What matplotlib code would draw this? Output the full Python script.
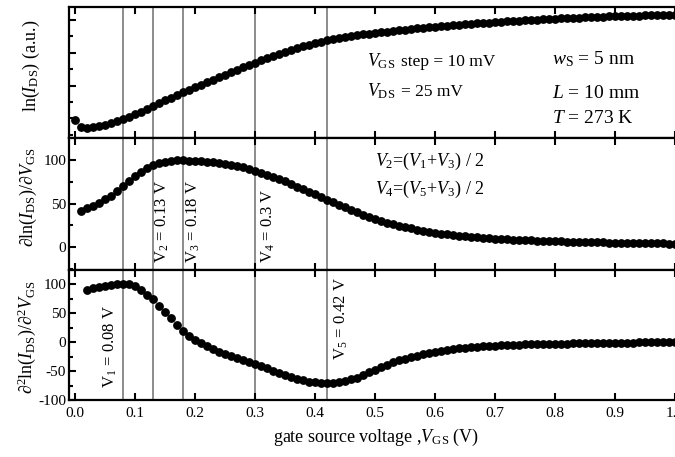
import numpy as np
import matplotlib
matplotlib.use("Agg")
import matplotlib.pyplot as plt
from matplotlib.ticker import MultipleLocator, NullFormatter

plt.rcParams['font.family'] = ['Liberation Serif', 'DejaVu Serif']
plt.rcParams['mathtext.fontset'] = 'custom'
plt.rcParams['mathtext.rm'] = 'Liberation Serif'
plt.rcParams['mathtext.it'] = 'Liberation Serif:italic'
plt.rcParams['mathtext.bf'] = 'Liberation Serif:bold'
plt.rcParams['axes.unicode_minus'] = False

# gate voltage sweep, 10 mV step
vgs = np.round(np.arange(101) * 0.01, 2)

# ln(I_DS), arbitrary units, from 0.00 V to 1.00 V
ln_ids = [
    -0.05, -0.26, -0.28, -0.26, -0.23, -0.19, -0.15, -0.09, -0.03, 0.04,
    0.12, 0.20, 0.29, 0.39, 0.47, 0.55, 0.63, 0.71, 0.79, 0.87,
    0.95, 1.03, 1.10, 1.18, 1.26, 1.33, 1.41, 1.48, 1.56, 1.63,
    1.70, 1.77, 1.84, 1.90, 1.97, 2.03, 2.09, 2.14, 2.20, 2.25,
    2.30, 2.34, 2.38, 2.42, 2.45, 2.48, 2.51, 2.54, 2.57, 2.59,
    2.61, 2.63, 2.65, 2.67, 2.69, 2.71, 2.73, 2.75, 2.77, 2.79,
    2.80, 2.82, 2.83, 2.85, 2.86, 2.87, 2.89, 2.90, 2.91, 2.92,
    2.94, 2.95, 2.96, 2.97, 2.98, 2.99, 3.00, 3.01, 3.02, 3.03,
    3.04, 3.05, 3.06, 3.07, 3.07, 3.08, 3.09, 3.10, 3.10, 3.11,
    3.12, 3.12, 3.13, 3.14, 3.14, 3.15, 3.15, 3.16, 3.16, 3.17,
    3.17,
]

# first derivative, from 0.01 V
d1_ids = [
    42, 44.5, 47.5, 51, 55, 59, 64.5, 70, 75.5, 81,
    86, 90.5, 94, 96.5, 98, 99, 99.5, 99.5, 99.2, 98.8,
    98.2, 97.6, 97, 96.2, 95.3, 94.3, 93, 91.5, 89.5, 87.5,
    85.3, 83, 80.5, 78, 75.3, 72.5, 69.5, 66.5, 63.5, 60.5,
    57.5, 54.5, 51.5, 48.5, 45.5, 42.5, 39.8, 37.2, 34.8, 32.5,
    30.3, 28.3, 26.5, 24.8, 23.2, 21.7, 20.3, 19.0, 17.8, 16.7,
    15.7, 14.8, 14.0, 13.2, 12.5, 11.9, 11.3, 10.8, 10.3, 9.9,
    9.5, 9.1, 8.8, 8.5, 8.2, 7.9, 7.6, 7.3, 7.1, 6.9,
    6.7, 6.5, 6.3, 6.1, 5.9, 5.8, 5.6, 5.5, 5.3, 5.2,
    5.1, 5.0, 4.9, 4.8, 4.7, 4.6, 4.5, 4.4, 4.3, 4.2,
]

# second derivative, from 0.02 V
d2_ids = [
    90, 93.5, 96, 98, 99.5, 100.5, 101, 100, 96.5,
    90, 82.5, 74, 63, 52, 42, 30, 20, 11, 4,
    -2, -7, -12, -16.5, -20.5, -24, -27, -30, -33.5, -37,
    -41, -45, -49, -53, -57, -60.5, -63.5, -66, -68, -69.5,
    -70.5, -71, -70.5, -69, -67, -64.5, -61.5, -57, -52, -47.5,
    -43, -39, -35, -31.5, -28.5, -25.5, -23, -20.5, -18.5, -16.5,
    -14.8, -13.2, -11.8, -10.5, -9.4, -8.5, -7.7, -7, -6.3, -5.7,
    -5.2, -4.8, -4.4, -4.1, -3.8, -3.6, -3.4, -3.2, -3.0, -2.8,
    -2.6, -2.4, -2.2, -2.0, -1.8, -1.6, -1.4, -1.3, -1.1, -1.0,
    -0.8, -0.7, -0.5, -0.4, -0.2, -0.1, 0.1, 0.2, 0.3, 0.4,
]

# characteristic voltages V1..V5
v_marks = [0.08, 0.13, 0.18, 0.30, 0.42]

W, H = 675, 457


def fx(px):
    return px / W


def fy(py):
    return 1 - py / H


fig = plt.figure(figsize=(W / 100, H / 100), dpi=100)


def panel(top, bottom):
    ax = fig.add_axes([fx(69), fy(bottom), 612 / W, (bottom - top) / H])
    ax.set_xlim(-0.0092, 1.0098)
    for s in ax.spines.values():
        s.set_linewidth(1.6)
    ax.tick_params(which='both', direction='in', top=True, right=False,
                   width=1.5, labelsize=11, pad=2)
    ax.tick_params(which='major', length=5)
    ax.tick_params(which='minor', length=3)
    ax.tick_params(axis='x', pad=5)
    ax.xaxis.set_major_locator(MultipleLocator(0.1))
    for v in v_marks:
        ax.axvline(v, color='#8c8c8c', lw=1.4, zorder=1)
    return ax


ax1 = panel(7, 138)
ax2 = panel(138, 270)
ax3 = panel(270, 400)

dot = dict(ls='none', marker='o', ms=5.3, color='black', zorder=3)
ax1.plot(vgs, ln_ids, **dot)
ax2.plot(vgs[1:], d1_ids, **dot)
ax3.plot(vgs[2:], d2_ids, **dot)

ax1.set_ylim(-0.6, 3.4)
ax1.yaxis.set_major_locator(MultipleLocator(1))
ax1.yaxis.set_minor_locator(MultipleLocator(0.5))
ax1.yaxis.set_major_formatter(NullFormatter())
ax1.xaxis.set_major_formatter(NullFormatter())

ax2.set_ylim(-26, 125)
ax2.yaxis.set_major_locator(MultipleLocator(50))
ax2.yaxis.set_minor_locator(MultipleLocator(25))
ax2.xaxis.set_major_formatter(NullFormatter())

ax3.set_ylim(-100, 125)
ax3.yaxis.set_major_locator(MultipleLocator(50))
ax3.yaxis.set_minor_locator(MultipleLocator(25))
ax3.xaxis.set_major_formatter(lambda v, p: f"{v:.1f}")

# axis titles
fig.text(fx(31), fy(66), r'ln($I_{\rm DS}$) (a.u.)', rotation=90,
         ha='center', va='center', fontsize=13)
fig.text(fx(28), fy(197), r'$\partial{\rm ln}(I_{\rm DS})/\partial V_{\rm GS}$',
         rotation=90, ha='center', va='center', fontsize=13)
fig.text(fx(27), fy(337),
         r'$\partial^2{\rm ln}(I_{\rm DS})/\partial^2 V_{\rm GS}$',
         rotation=90, ha='center', va='center', fontsize=13)
fig.text(fx(376), fy(437), r'gate source voltage ,$V_{\rm GS}$ (V)',
         ha='center', va='center', fontsize=13)

# measurement conditions
fig.text(fx(367), fy(66), r'$V_{\rm GS}$', fontsize=13, va='baseline')
fig.text(fx(401), fy(66), 'step = 10 mV', fontsize=12.5, va='baseline')
fig.text(fx(367), fy(96), r'$V_{\rm DS}$', fontsize=13, va='baseline')
fig.text(fx(401), fy(96), '= 25 mV', fontsize=12.5, va='baseline')
fig.text(fx(552), fy(64), r'$w_{\rm S}$ = 5 nm', fontsize=14, va='baseline')
fig.text(fx(552), fy(98), r'$L$ = 10 mm', fontsize=14, va='baseline')
fig.text(fx(552), fy(123), r'$T$ = 273 K', fontsize=14, va='baseline')

fig.text(fx(375), fy(166), r'$V_2$=($V_1$+$V_3$) / 2', fontsize=13, va='baseline')
fig.text(fx(375), fy(194), r'$V_4$=($V_5$+$V_3$) / 2', fontsize=13, va='baseline')

# vertical labels next to each marker line: (axis, x offset, bottom in axes fraction)
label_place = [
    (ax3, -0.021, 0.092),
    (ax2, 0.016, 0.053),
    (ax2, 0.018, 0.053),
    (ax2, 0.022, 0.053),
    (ax3, 0.024, 0.308),
]
for i, (v, (ax, dx, yb)) in enumerate(zip(v_marks, label_place)):
    ax.text(v + dx, yb, r'${\rm V}_%d$ = %g V' % (i + 1, v),
            transform=ax.get_xaxis_transform(), rotation=90,
            ha='center', va='bottom', fontsize=12)

fig.savefig('out.png', dpi=100)
